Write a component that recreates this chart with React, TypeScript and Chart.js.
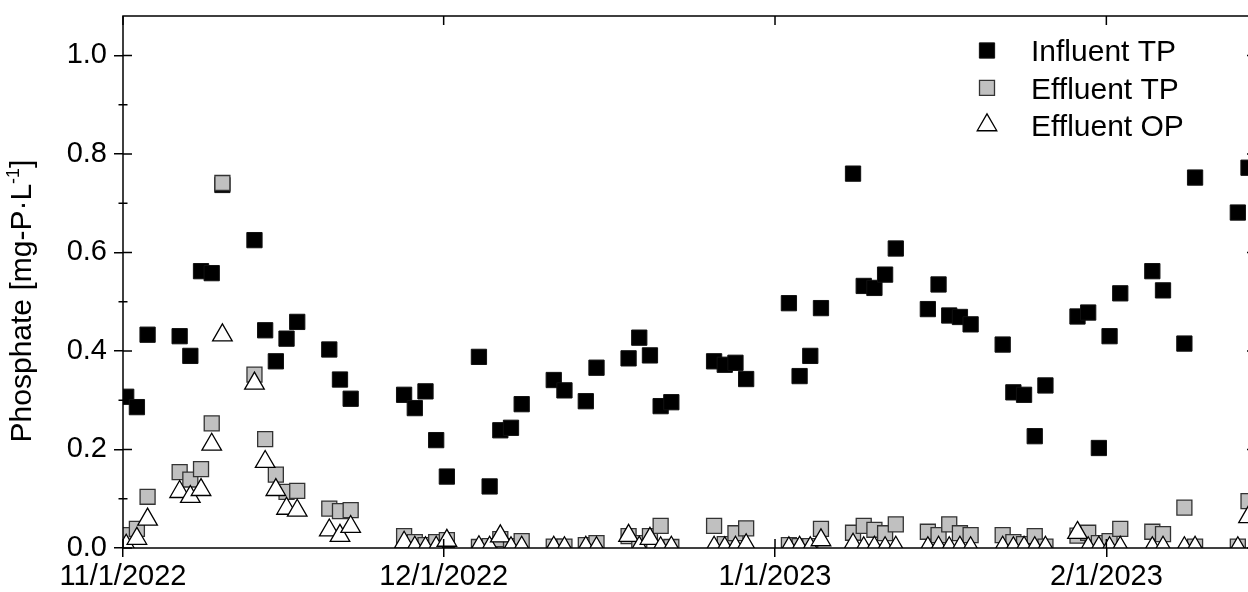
import React, { useEffect, useRef } from 'react';
import { Chart, registerables } from 'chart.js';
import { drawPoint } from 'chart.js/helpers';

Chart.register(...registerables);

const FONT_FAMILY = '"Liberation Sans", Arial, Helvetica, sans-serif';
const DAY_MS = 86400000;
const AXIS_START = '2022-11-01';
const AXIS_END = '2023-02-15';
const SAMPLE_TIME_DAYS = 0.3; // samples taken in the morning

const sampleDates = [
  '2022-11-01', '2022-11-02', '2022-11-03', '2022-11-06', '2022-11-07', '2022-11-08', '2022-11-09', '2022-11-10',
  '2022-11-13', '2022-11-14', '2022-11-15', '2022-11-16', '2022-11-17', '2022-11-20', '2022-11-21', '2022-11-22',
  '2022-11-27', '2022-11-28', '2022-11-29', '2022-11-30', '2022-12-01', '2022-12-04', '2022-12-05', '2022-12-06',
  '2022-12-07', '2022-12-08', '2022-12-11', '2022-12-12', '2022-12-14', '2022-12-15', '2022-12-18', '2022-12-19',
  '2022-12-20', '2022-12-21', '2022-12-22',
  '2022-12-26', '2022-12-27', '2022-12-28', '2022-12-29', '2023-01-02', '2023-01-03', '2023-01-04', '2023-01-05',
  '2023-01-08', '2023-01-09', '2023-01-10', '2023-01-11', '2023-01-12', '2023-01-15', '2023-01-16', '2023-01-17',
  '2023-01-18', '2023-01-19', '2023-01-22', '2023-01-23', '2023-01-24', '2023-01-25', '2023-01-26', '2023-01-29',
  '2023-01-30', '2023-01-31', '2023-02-01', '2023-02-02', '2023-02-05', '2023-02-06', '2023-02-08', '2023-02-09',
  '2023-02-13', '2023-02-14',
];

const influentTP = [
  0.307, 0.286, 0.433, 0.430, 0.390, 0.562, 0.558, 0.737, 0.625, 0.442, 0.379, 0.425, 0.459, 0.403, 0.342, 0.303,
  0.311, 0.284, 0.318, 0.219, 0.145, 0.388, 0.125, 0.239, 0.244, 0.292, 0.341, 0.320, 0.298, 0.366, 0.385, 0.427,
  0.391, 0.288, 0.296,
  0.379, 0.372, 0.376, 0.343, 0.497, 0.349, 0.390, 0.487, 0.760, 0.532, 0.528, 0.555, 0.608, 0.485, 0.535, 0.472,
  0.469, 0.454, 0.413, 0.316, 0.311, 0.227, 0.330, 0.470, 0.478, 0.203, 0.430, 0.517, 0.562, 0.523, 0.415, 0.752,
  0.681, 0.772,
];

const effluentTP = [
  0.026, 0.039, 0.104, 0.154, 0.139, 0.160, 0.253, 0.741, 0.352, 0.221, 0.149, 0.114, 0.116, 0.080, 0.075, 0.077,
  0.024, 0.012, 0.006, 0.012, 0.016, 0.002, 0.004, 0.018, 0.004, 0.014, 0.003, 0.003, 0.006, 0.010, 0.024, 0.010,
  0.024, 0.045, 0.002,
  0.045, 0.008, 0.030, 0.040, 0.006, 0.004, 0.004, 0.039, 0.031, 0.045, 0.037, 0.030, 0.048, 0.033, 0.026, 0.048,
  0.030, 0.026, 0.026, 0.012, 0.008, 0.024, 0.003, 0.025, 0.031, 0.010, 0.014, 0.039, 0.033, 0.028, 0.082, 0.003,
  0.003, 0.095,
];

const effluentOP = [
  0.005, 0.019, 0.058, 0.114, 0.104, 0.118, 0.210, 0.432, 0.334, 0.175, 0.118, 0.080, 0.076, 0.036, 0.025, 0.043,
  0.011, 0.001, 0.000, 0.001, 0.015, 0.002, 0.001, 0.024, 0.000, 0.001, 0.001, 0.000, 0.001, 0.000, 0.025, 0.001,
  0.019, 0.000, 0.001,
  0.001, 0.000, 0.001, 0.006, 0.000, 0.001, 0.000, 0.016, 0.007, 0.000, 0.001, 0.000, 0.001, 0.000, 0.001, 0.000,
  0.001, 0.000, 0.001, 0.000, 0.001, 0.000, 0.001, 0.031, 0.000, 0.001, 0.000, 0.001, 0.000, 0.001, 0.000, 0.001,
  0.000, 0.063,
];

const seriesLabels = ['Influent TP', 'Effluent TP', 'Effluent OP'];

const xTickDates = ['2022-11-01', '2022-12-01', '2023-01-01', '2023-02-01'];
const xTickLabels = ['11/1/2022', '12/1/2022', '1/1/2023', '2/1/2023'];
const yTickValues = [0, 0.2, 0.4, 0.6, 0.8, 1.0];
const yTickLabels = ['0.0', '0.2', '0.4', '0.6', '0.8', '1.0'];
const yMinorTickValues = [0.1, 0.3, 0.5, 0.7, 0.9];
const Y_MIN = 0;
const Y_MAX = 1.08;

const dayOf = (iso: string) => (Date.parse(iso) - Date.parse(AXIS_START)) / DAY_MS;
const xTickValues = xTickDates.map(dayOf);

const toPoints = (vals: number[]) =>
  vals.map((v, i) => ({ x: dayOf(sampleDates[i]) + SAMPLE_TIME_DAYS, y: v }));

const CANVAS_W = 1270;
const CANVAS_H = 592;

const framePlugin = {
  id: 'originFrame',
  afterDatasetsDraw(chart: any) {
    const { ctx, chartArea } = chart;
    const { left, right, top, bottom } = chartArea;
    const xs = chart.scales.x;
    const ys = chart.scales.y;
    ctx.save();
    ctx.strokeStyle = '#000';
    ctx.lineWidth = 1.5;
    ctx.strokeRect(left, top, right - left, bottom - top);
    ctx.beginPath();
    xTickValues.forEach((v) => {
      const px = xs.getPixelForValue(v);
      ctx.moveTo(px, bottom);
      ctx.lineTo(px, bottom - 9);
      ctx.moveTo(px, top);
      ctx.lineTo(px, top + 9);
    });
    yTickValues.forEach((v) => {
      const py = ys.getPixelForValue(v);
      ctx.moveTo(left, py);
      ctx.lineTo(left + 9, py);
      ctx.moveTo(right, py);
      ctx.lineTo(right - 9, py);
    });
    yMinorTickValues.forEach((v) => {
      const py = ys.getPixelForValue(v);
      ctx.moveTo(left - 4.5, py);
      ctx.lineTo(left + 4.5, py);
      ctx.moveTo(right, py);
      ctx.lineTo(right - 4.5, py);
    });
    ctx.stroke();
    ctx.restore();
  },
};

const titlePlugin = {
  id: 'yTitle',
  afterDraw(chart: any) {
    const { ctx, chartArea } = chart;
    const cy = (chartArea.top + chartArea.bottom) / 2 + 19;
    const main = 'Phosphate [mg-P\u00B7L';
    const sup = '-1';
    const end = ']';
    const size = 30;
    const supSize = 18;
    ctx.save();
    ctx.translate(31, cy);
    ctx.rotate(-Math.PI / 2);
    ctx.fillStyle = '#000';
    ctx.textBaseline = 'alphabetic';
    ctx.textAlign = 'left';
    ctx.font = `${size}px ${FONT_FAMILY}`;
    const w1 = ctx.measureText(main).width;
    const w3 = ctx.measureText(end).width;
    ctx.font = `${supSize}px ${FONT_FAMILY}`;
    const w2 = ctx.measureText(sup).width;
    let x = -(w1 + w2 + w3) / 2;
    ctx.font = `${size}px ${FONT_FAMILY}`;
    ctx.fillText(main, x, 0);
    x += w1;
    ctx.font = `${supSize}px ${FONT_FAMILY}`;
    ctx.fillText(sup, x, -12);
    x += w2;
    ctx.font = `${size}px ${FONT_FAMILY}`;
    ctx.fillText(end, x, 0);
    ctx.restore();
  },
};

const legendPlugin = {
  id: 'insideLegend',
  afterDraw(chart: any) {
    const { ctx } = chart;
    const markerX = 987;
    const textX = 1031;
    const firstY = 50.5;
    const gap = 37.3;
    const fontSize = 30;
    ctx.save();
    seriesLabels.forEach((label, i) => {
      const ds = chart.data.datasets[i];
      const y = firstY + i * gap;
      ctx.fillStyle = ds.backgroundColor;
      ctx.strokeStyle = ds.borderColor;
      ctx.lineWidth = ds.borderWidth;
      drawPoint(ctx, { pointStyle: ds.pointStyle, radius: ds.pointRadius, borderWidth: ds.borderWidth, rotation: 0 } as any, markerX, y);
      ctx.fillStyle = '#000';
      ctx.font = `${fontSize}px ${FONT_FAMILY}`;
      ctx.textAlign = 'left';
      ctx.textBaseline = 'alphabetic';
      ctx.fillText(label, textX, y + fontSize * 0.358);
    });
    ctx.restore();
  },
};

export default function App() {
  const ref = useRef<HTMLCanvasElement>(null);

  useEffect(() => {
    document.body.style.margin = '0';
    document.body.style.overflow = 'hidden';
    const canvas = ref.current;
    if (!canvas) return;
    const tickFont = { family: FONT_FAMILY, size: 29 };
    const chart = new Chart(canvas, {
      type: 'scatter',
      data: {
        datasets: [
          {
            label: seriesLabels[0],
            data: toPoints(influentTP),
            pointStyle: 'rect',
            pointRadius: 10.8,
            pointHoverRadius: 10.8,
            backgroundColor: '#000000',
            borderColor: '#111111',
            borderWidth: 1,
            order: 3,
            clip: 0,
          },
          {
            label: seriesLabels[1],
            data: toPoints(effluentTP),
            pointStyle: 'rect',
            pointRadius: 10.6,
            pointHoverRadius: 10.6,
            backgroundColor: '#c0c0c0',
            borderColor: '#333333',
            borderWidth: 1.3,
            order: 2,
            clip: 0,
          },
          {
            label: seriesLabels[2],
            data: toPoints(effluentOP),
            pointStyle: 'triangle',
            pointRadius: 11.3,
            pointHoverRadius: 11.3,
            backgroundColor: '#ffffff',
            borderColor: '#000000',
            borderWidth: 1.3,
            order: 1,
            clip: 0,
          },
        ] as any,
      },
      options: {
        animation: false,
        responsive: false,
        devicePixelRatio: 1,
        events: [],
        layout: { padding: { top: 16, right: 14, left: 0, bottom: 0 } },
        plugins: {
          legend: { display: false },
          tooltip: { enabled: false },
          title: { display: false },
        },
        scales: {
          x: {
            type: 'linear',
            position: 'bottom',
            min: 0,
            max: dayOf(AXIS_END),
            afterBuildTicks: (s: any) => {
              s.ticks = xTickValues.map((v) => ({ value: v }));
            },
            afterFit: (s: any) => {
              s.height = 44;
              s.paddingLeft = 0;
              s.paddingRight = 0;
            },
            ticks: {
              autoSkip: false,
              maxRotation: 0,
              padding: 3,
              color: '#000',
              font: tickFont,
              callback: (v: any) => xTickLabels[xTickValues.indexOf(Number(v))] ?? '',
            },
            grid: { drawOnChartArea: false, drawTicks: true, tickLength: 9, color: '#000', lineWidth: 1.5 },
            border: { display: false },
          },
          y: {
            type: 'linear',
            min: Y_MIN,
            max: Y_MAX,
            afterBuildTicks: (s: any) => {
              s.ticks = yTickValues.map((v) => ({ value: v }));
            },
            afterFit: (s: any) => {
              s.width = 123;
              s.paddingTop = 0;
              s.paddingBottom = 0;
            },
            ticks: {
              padding: 7,
              color: '#000',
              font: tickFont,
              callback: (v: any) => {
                const i = yTickValues.findIndex((t) => Math.abs(t - Number(v)) < 1e-9);
                return i >= 0 ? yTickLabels[i] : '';
              },
            },
            grid: { drawOnChartArea: false, drawTicks: true, tickLength: 9, color: '#000', lineWidth: 1.5 },
            border: { display: false },
          },
        },
      } as any,
      plugins: [framePlugin, titlePlugin, legendPlugin],
    });
    return () => chart.destroy();
  }, []);

  return (
    <div style={{ width: 1248, height: 592, overflow: 'hidden', position: 'relative', background: '#fff' }}>
      <canvas ref={ref} width={CANVAS_W} height={CANVAS_H} style={{ display: 'block', width: CANVAS_W, height: CANVAS_H }} />
    </div>
  );
}
